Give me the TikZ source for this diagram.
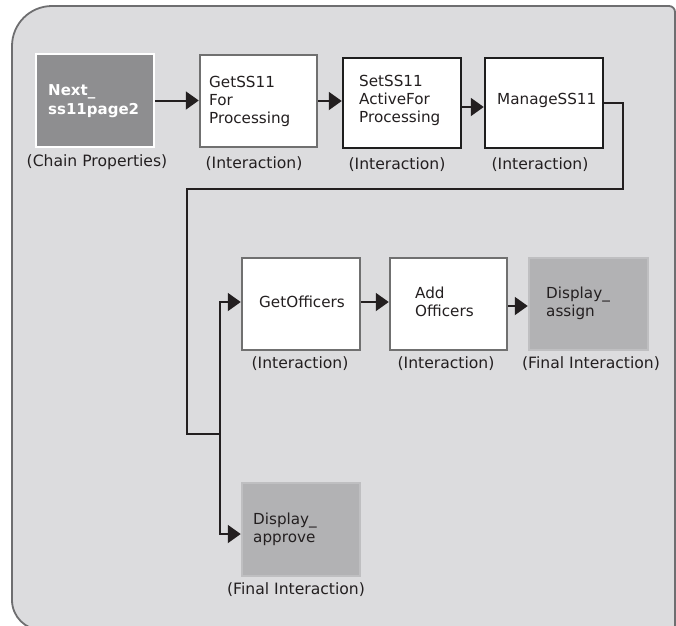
\documentclass[tikz,border=0pt]{standalone}
\usepackage{fontspec}
\setmainfont{DejaVu Sans}
\usetikzlibrary{arrows.meta}
\definecolor{bg}{HTML}{DCDCDE}
\definecolor{frame}{HTML}{6E6E70}
\definecolor{chainfill}{HTML}{8E8E90}
\definecolor{graybd}{HTML}{707070}
\definecolor{blackbd}{HTML}{1E1E1E}
\definecolor{finalfill}{HTML}{B2B2B4}
\definecolor{finalbd}{HTML}{BFBFC1}
\definecolor{ink}{HTML}{231F20}
\tikzset{
  boxbase/.style={rectangle, line width=2.5pt, inner sep=0pt},
  chainbox/.style={boxbase, draw=white, fill=chainfill},
  graybox/.style={boxbase, draw=graybd, fill=white},
  blackbox/.style={boxbase, draw=blackbd, fill=white},
  finalbox/.style={boxbase, draw=finalbd, fill=finalfill},
  txt/.style={anchor=west, align=left, inner sep=0pt, text=ink,
    font=\fontsize{15.2}{18}\selectfont},
  boldtxt/.style={txt, text=white, font=\fontsize{15}{19}\selectfont\bfseries},
  lab/.style={inner sep=0pt, text=ink, font=\fontsize{15.6}{18}\selectfont},
  arr/.style={draw=ink, line width=2pt, -{Triangle[length=13pt,width=18pt]}},
  conn/.style={draw=ink, line width=2pt, line join=miter},
}
\begin{document}
\begin{tikzpicture}[x=1pt,y=-1pt]
\useasboundingbox (0,0) rectangle (676,625);
\begin{scope}
\clip (0,0) rectangle (676,625);
\draw[line width=1.8pt, draw=frame, fill=bg]
  (12,46) arc[start angle=180,end angle=270,radius=40]
  -- (669,6) arc[start angle=270,end angle=360,radius=6]
  -- (675,640) -- (42,640) -- (42,630)
  arc[start angle=90,end angle=180,radius=30] -- cycle;
\end{scope}

% boxes
\node[chainbox, minimum width=118, minimum height=93] (next) at (95,100.5) {};
\node[graybox, minimum width=117, minimum height=92] (get) at (258.5,101) {};
\node[blackbox, minimum width=118, minimum height=90] (set) at (402,103) {};
\node[blackbox, minimum width=118, minimum height=90] (manage) at (544,103) {};
\node[graybox, minimum width=118, minimum height=92] (getoff) at (301,304) {};
\node[graybox, minimum width=117, minimum height=92] (addoff) at (448.5,304) {};
\node[finalbox, minimum width=119, minimum height=92] (dassign) at (588.5,304) {};
\node[finalbox, minimum width=118, minimum height=93] (dapprove) at (301,529.5) {};

% box texts
\node[boldtxt] (nextt) at (48,101) {Next\_\\ss11page2};
\node[txt] (gett) at (209,101) {GetSS11\\For\\Processing};
\node[txt] (sett) at (359,100) {SetSS11\\ActiveFor\\Processing};
\node[txt] (managet) at (497,100) {ManageSS11};
\node[txt] (getofft) at (259,302) {GetOfficers};
\node[txt] (addofft) at (415,302) {Add\\Officers};
\node[txt] (dassignt) at (546,303) {Display\_\\assign};
\node[txt] (dapprovet) at (253,529) {Display\_\\approve};

% labels
\node[lab] (l1) at (97,162) {(Chain Properties)};
\node[lab] (l2) at (254,164) {(Interaction)};
\node[lab] (l3) at (397,165) {(Interaction)};
\node[lab] (l4) at (540,165) {(Interaction)};
\node[lab] (l5) at (300,364) {(Interaction)};
\node[lab] (l6) at (446,364) {(Interaction)};
\node[lab] (l7) at (591,364) {(Final Interaction)};
\node[lab] (l8) at (296,590) {(Final Interaction)};

% connectors
\coordinate (t1) at (623,189);
\coordinate (t2) at (187,189);
\coordinate (t3) at (187,434);
\coordinate (j) at (220,434);
\draw[arr] (next.east) -- (next.east -| get.west);
\draw[arr] (get.east) -- (get.east -| set.west);
\draw[arr] ([yshift=-4pt]set.east) -- ([yshift=-4pt]set.east -| manage.west);
\draw[conn] (manage.east) -| (t1) -- (t2) -- (t3) -- (j);
\draw[arr] (j) |- ([yshift=2pt]getoff.west);
\draw[arr] (j) |- ([yshift=-4.5pt]dapprove.west);
\draw[arr] ([yshift=2pt]getoff.east) -- ([yshift=2pt]getoff.east -| addoff.west);
\draw[arr] ([yshift=-2pt]addoff.east) -- ([yshift=-2pt]addoff.east -| dassign.west);
\end{tikzpicture}
\end{document}
